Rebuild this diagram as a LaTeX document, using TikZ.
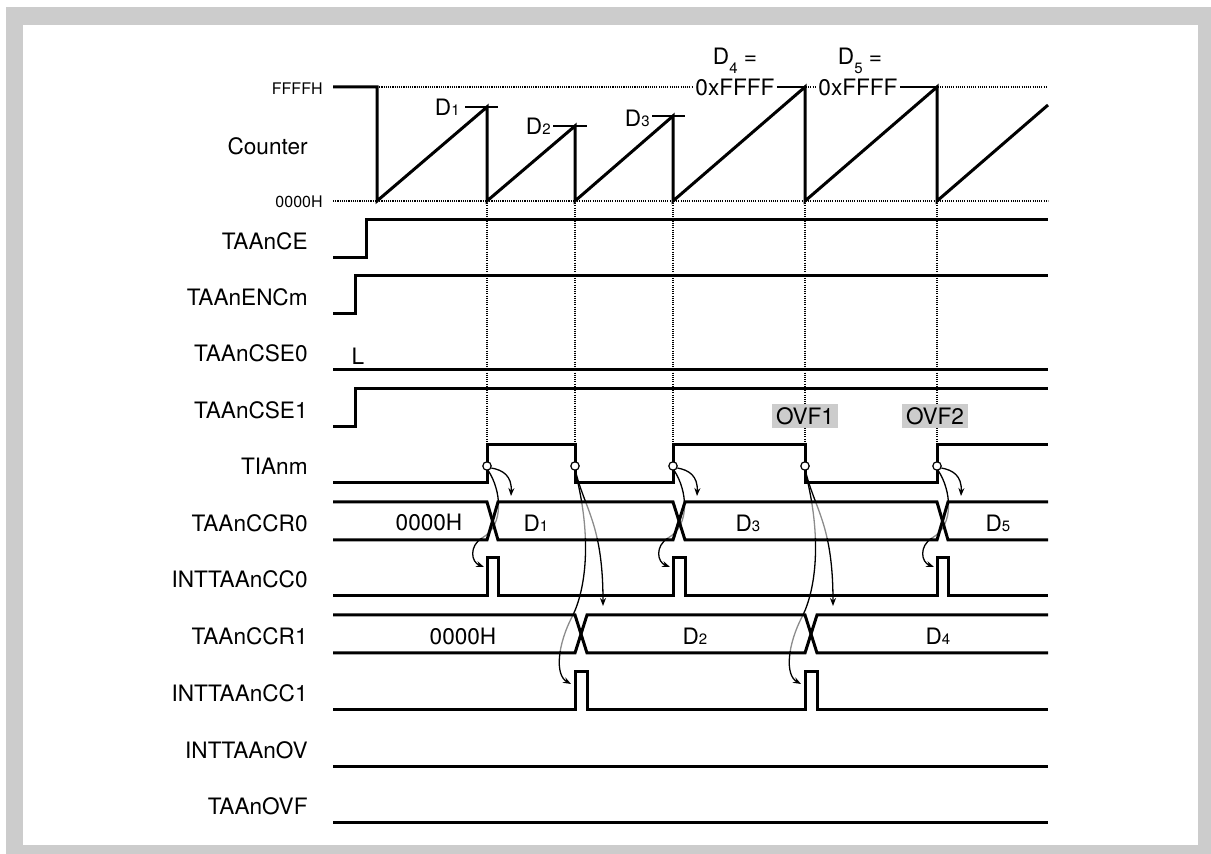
\documentclass[tikz,border=0pt]{standalone}
\usepackage{fontspec}
\setmainfont{TeX Gyre Heros}
\usepackage{xcolor}
\usetikzlibrary{arrows.meta,positioning}
\newcommand{\idx}[1]{{\fontsize{7.5}{8}\selectfont #1}}

\begin{document}
\begin{tikzpicture}[
  x=0.5pt, y=-0.5pt,
  font=\fontsize{11.3}{13.5}\selectfont,
  wave/.style={line width=1.5pt, line join=miter},
  sname/.style={anchor=east, inner sep=0pt},
  lvl/.style={anchor=east, inner sep=0pt, font=\fontsize{8}{9}\selectfont},
  guide/.style={line width=0.55pt, dash pattern=on 0.55pt off 0.55pt},
  peakline/.style={line width=0.6pt},
  ring/.style={circle, draw, fill=white, line width=0.6pt, inner sep=0pt,
               minimum size=4.2pt},
  arr/.style={-{Stealth[length=4pt, width=3pt]}, line width=0.65pt},
  val/.style={inner sep=0pt},
  ovf/.style={fill=black!20, inner xsep=1.8pt, inner ysep=1.6pt}
]
% frame
\useasboundingbox (0,0) rectangle (1211,854);
\fill[black!20] (6,7) rectangle (1211,854);
\fill[white] (23,25) rectangle (1198,845);

% level and edge guides
\draw[guide] (377,87) -- (1046,87);
\draw[guide] (333,201) -- (1048,201);
\draw[guide] (487,201) -- (487,445);
\draw[guide] (575,201) -- (575,445);
\draw[guide] (673,201) -- (673,445);
\draw[guide] (805,201) -- (805,445);
\draw[guide] (937,201) -- (937,445);

% signal names
\node[sname] (cnt)   at (308,146) {Counter};
\node[lvl]   (ffff)  at (323,89)  {FFFFH};
\node[lvl]   (zero)  at (323,202) {0000H};
\node[sname] (ce)    at (308,241) {TAAnCE};
\node[sname] (encm)  at (308,297) {TAAnENCm};
\node[sname] (cse0)  at (308,353) {TAAnCSE0};
\node[sname] (cse1)  at (308,410) {TAAnCSE1};
\node[sname] (tia)   at (308,466) {TIAnm};
\node[sname] (ccr0)  at (308,523) {TAAnCCR0};
\node[sname] (cc0)   at (308,579) {INTTAAnCC0};
\node[sname] (ccr1)  at (308,636) {TAAnCCR1};
\node[sname] (cc1)   at (308,693) {INTTAAnCC1};
\node[sname] (ov)    at (308,750) {INTTAAnOV};
\node[sname] (ovf)   at (308,806) {TAAnOVF};

% counter
\draw[wave] (333,87) -- (377,87) -- (377,201) -- (487,107) -- (487,201)
  -- (575,126) -- (575,201) -- (673,116) -- (673,201) -- (805,87)
  -- (805,201) -- (937,87) -- (937,201) -- (1048,105);
\node[val, anchor=base east] (d1) at (460,116) {D\idx{1}};
\draw[peakline] (465,107) -- (498,107);
\node[val, anchor=base east] (d2) at (551,135) {D\idx{2}};
\draw[peakline] (553,126) -- (587,126);
\node[val, anchor=base east] (d3) at (650,127) {D\idx{3}};
\draw[peakline] (652,116) -- (685,116);
\node[val, anchor=base] (d4eq) at (735,65) {D\raisebox{-4.5pt}{\idx{4}} =};
\node[fill=white, inner xsep=1pt, inner ysep=1pt] (d4val) at (735,87) {0xFFFF};
\draw[peakline] (d4val.east) -- (805,87);
\node[val, anchor=base] (d5eq) at (860,65) {D\raisebox{-4.5pt}{\idx{5}} =};
\node[fill=white, inner xsep=1pt, inner ysep=1pt] (d5val) at (858,87) {0xFFFF};
\draw[peakline] (d5val.east) -- (937,87);

% control signals
\draw[wave] (333,258) -- (366,258) -- (366,220) -- (1048,220);
\draw[wave] (333,314) -- (355,314) -- (355,276) -- (1048,276);
\draw[wave] (333,370) -- (1048,370);
\node[val] (lvlL) at (358,356) {L};
\draw[wave] (333,427) -- (355,427) -- (355,389) -- (1048,389);
\node[ovf] (ovf1) at (805,416) {OVF1};
\node[ovf] (ovf2) at (935,416) {OVF2};

% capture input
\draw[wave] (333,483) -- (487,483) -- (487,445) -- (575,445) -- (575,483)
  -- (673,483) -- (673,445) -- (805,445) -- (805,483) -- (937,483)
  -- (937,445) -- (1048,445);
\node[ring] (edge1) at (487,466) {};
\node[ring] (edge2) at (575,466) {};
\node[ring] (edge3) at (673,466) {};
\node[ring] (edge4) at (805,466) {};
\node[ring] (edge5) at (937,466) {};

\coordinate (load1) at (511,496);
\coordinate (load3) at (697,496);
\coordinate (load5) at (961,496);
\coordinate (irq1)  at (484,567);
\coordinate (irq3)  at (670,567);
\coordinate (irq5)  at (934,567);
\coordinate (load2) at (603,606);
\coordinate (load4) at (833,606);
\coordinate (irq2)  at (571,684);
\coordinate (irq4)  at (801,684);

% rising edges: capture into TAAnCCR0, then INTTAAnCC0
\draw[arr] (edge1.-25) .. controls (503,470) and (512,476) .. (load1);
\draw[arr] (edge1.-75) .. controls (501,490) and (505,525) .. (482,538)
  .. controls (469,546) and (471,562) .. (irq1);
\draw[arr] (edge3.-25) .. controls (689,470) and (698,476) .. (load3);
\draw[arr] (edge3.-75) .. controls (687,490) and (691,525) .. (668,538)
  .. controls (655,546) and (657,562) .. (irq3);
\draw[arr] (edge5.-25) .. controls (953,470) and (962,476) .. (load5);
\draw[arr] (edge5.-75) .. controls (951,490) and (955,525) .. (932,538)
  .. controls (919,546) and (921,562) .. (irq5);
% falling edges: capture into TAAnCCR1, then INTTAAnCC1
\draw[arr] (edge2.-85) .. controls (585,510) and (603,525) .. (load2);
\draw[arr] (edge2.south) .. controls (593,540) and (585,590) .. (573,615)
  .. controls (557,645) and (555,675) .. (irq2);
\draw[arr] (edge4.-85) .. controls (815,510) and (833,525) .. (load4);
\draw[arr] (edge4.south) .. controls (823,540) and (815,590) .. (803,615)
  .. controls (787,645) and (785,675) .. (irq4);

% arrows fade where they cross the buses
\fill[white, opacity=0.55] (333,503.5) rectangle (1048,538.5);
\fill[white, opacity=0.55] (333,616.5) rectangle (1048,651.5);

% TAAnCCR0 / INTTAAnCC0
\draw[wave] (333,502) -- (487,502) -- (498,540) -- (673,540) -- (685,502)
  -- (937,502) -- (948,540) -- (1048,540);
\draw[wave] (333,540) -- (487,540) -- (498,502) -- (673,502) -- (685,540)
  -- (937,540) -- (948,502) -- (1048,502);
\node[val] (r0a) at (429,522) {0000H};
\node[val] (r0b) at (536,523) {D\idx{1}};
\node[val] (r0c) at (748,523) {D\idx{3}};
\node[val] (r0d) at (998,523) {D\idx{5}};
\draw[wave] (333,596) -- (487,596) -- (487,558) -- (498,558) -- (498,596)
  -- (673,596) -- (673,558) -- (685,558) -- (685,596) -- (937,596)
  -- (937,558) -- (948,558) -- (948,596) -- (1048,596);

% TAAnCCR1 / INTTAAnCC1
\draw[wave] (333,615) -- (575,615) -- (587,653) -- (805,653) -- (817,615)
  -- (1048,615);
\draw[wave] (333,653) -- (575,653) -- (587,615) -- (805,615) -- (817,653)
  -- (1048,653);
\node[val] (r1a) at (463,636) {0000H};
\node[val] (r1b) at (695,636) {D\idx{2}};
\node[val] (r1c) at (938,636) {D\idx{4}};
\draw[wave] (333,710) -- (575,710) -- (575,672) -- (587,672) -- (587,710)
  -- (805,710) -- (805,672) -- (817,672) -- (817,710) -- (1048,710);

% overflow
\draw[wave] (333,767) -- (1048,767);
\draw[wave] (333,823) -- (1048,823);
\end{tikzpicture}
\end{document}
